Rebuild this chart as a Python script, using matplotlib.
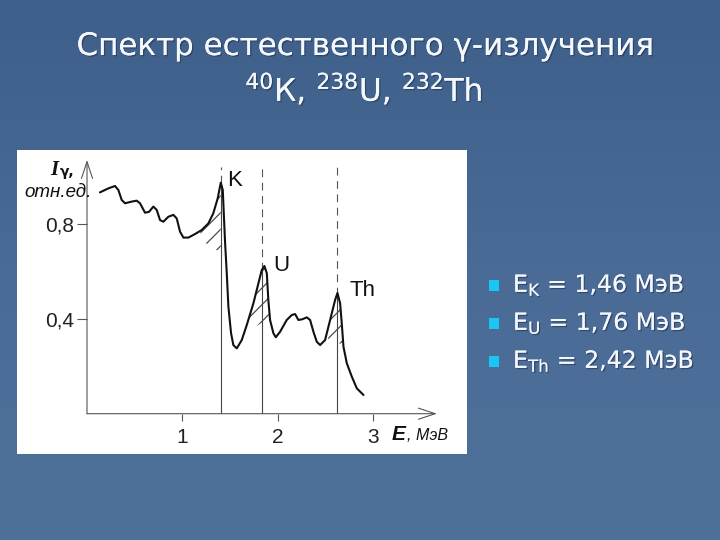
import numpy as np
import matplotlib
matplotlib.use('Agg')
import matplotlib.pyplot as plt
from matplotlib.patches import Rectangle
from matplotlib.colors import LinearSegmentedColormap
import matplotlib.patheffects as pe

# ---------------- data ----------------
energy = [0.136, 0.224, 0.294, 0.329, 0.364, 0.399, 0.469, 0.521, 0.556, 0.609,
          0.651, 0.696, 0.731, 0.766, 0.801, 0.853, 0.906, 0.941, 0.976, 1.011,
          1.063, 1.133, 1.203, 1.273, 1.325, 1.371, 1.403, 1.424, 1.448, 1.466,
          1.483, 1.511, 1.535, 1.571, 1.623, 1.676, 1.745, 1.798, 1.833, 1.861,
          1.886, 1.902, 1.920, 1.955, 1.980, 2.025, 2.095, 2.148, 2.183, 2.217,
          2.259, 2.305, 2.340, 2.375, 2.410, 2.445, 2.497, 2.550, 2.602, 2.627,
          2.655, 2.672, 2.690, 2.725, 2.778, 2.830, 2.900]
intensity = [0.935, 0.952, 0.962, 0.945, 0.903, 0.889, 0.896, 0.900, 0.889, 0.849,
             0.853, 0.875, 0.861, 0.818, 0.811, 0.832, 0.840, 0.825, 0.769, 0.744,
             0.744, 0.759, 0.776, 0.804, 0.847, 0.910, 0.976, 0.945, 0.725, 0.593,
             0.452, 0.340, 0.290, 0.276, 0.311, 0.375, 0.466, 0.551, 0.607, 0.624,
             0.593, 0.480, 0.396, 0.340, 0.323, 0.346, 0.396, 0.417, 0.421, 0.396,
             0.399, 0.407, 0.396, 0.346, 0.304, 0.290, 0.311, 0.396, 0.480, 0.510,
             0.466, 0.382, 0.283, 0.213, 0.156, 0.107, 0.079]

peak_names = ['K', 'U', 'Th']
peak_line_E = [1.403, 1.833, 2.620]
peak_label_E = [1.548, 2.036, 2.886]
peak_label_I = [0.987, 0.628, 0.520]

# hatched areas: energy range and lower boundary
band_E = [[1.19, 1.403], [1.68, 1.91], [2.53, 2.675]]
band_low = [[0.735, 0.680], [0.350, 0.400], [0.305, 0.295]]

xticks = [1, 2, 3]
xtick_labels = ['1', '2', '3']
yticks = [0.4, 0.8]
ytick_labels = ['0,4', '0,8']

title_line1 = 'Спектр естественного γ-излучения'
title_line2 = r'$^{\mathregular{40}}$К, $^{\mathregular{238}}$U, $^{\mathregular{232}}$Th'
bullet_texts = [r'E$_\mathregular{K}$ = 1,46 МэВ',
                r'E$_\mathregular{U}$ = 1,76 МэВ',
                r'E$_\mathregular{Th}$ = 2,42 МэВ']

# ---------------- figure ----------------
W, H = 720, 540
fig = plt.figure(figsize=(W / 100, H / 100), dpi=100)

def fx(x):
    return x / W

def fy(y):
    return 1 - y / H

# background
bg = fig.add_axes([0, 0, 1, 1], zorder=-10)
cmap = LinearSegmentedColormap.from_list('bg', ['#3f5f8b', '#4a6b96', '#4e7199'])
grad = np.linspace(0, 1, 256).reshape(-1, 1)
bg.imshow(grad, extent=[0, 1, 0, 1], aspect='auto', cmap=cmap, origin='upper')
bg.set_axis_off()

# white picture box
fig.add_artist(Rectangle((fx(17), fy(454)), fx(467) - fx(17), fy(150) - fy(454),
                         transform=fig.transFigure, facecolor='white',
                         edgecolor='none', zorder=-5))

# chart axes
x0, x1 = 87, 435
y0 = 413.7
ymax = 1.06
ax = fig.add_axes([fx(x0), fy(y0), fx(x1) - fx(x0), (ymax * 236.7) / H])
ax.set_xlim(0, 3.65)
ax.set_ylim(0, ymax)
ax.set_facecolor('none')
for s in ax.spines.values():
    s.set_visible(False)

E = np.array(energy)
I = np.array(intensity)

plt.rcParams['hatch.linewidth'] = 0.9
plt.rcParams['hatch.color'] = '#4a4a4a'
for be, bl in zip(band_E, band_low):
    inside = E[(E > be[0]) & (E < be[1])]
    xs = np.concatenate(([be[0]], inside, [be[1]]))
    top = np.interp(xs, E, I)
    low = np.interp(xs, be, bl)
    ax.fill_between(xs, low, top, where=top >= low, facecolor='none',
                    edgecolor='#4a4a4a', hatch='//', linewidth=0, zorder=2)

# vertical peak lines: dashed above the curve, solid below
for xe in peak_line_E:
    yc = np.interp(xe, E, I)
    ax.plot([xe, xe], [yc, 1.043], color='#555555', lw=0.8,
            linestyle=(0, (7, 5)), zorder=1)
    ax.plot([xe, xe], [0, yc], color='#444444', lw=0.8, zorder=1)

ax.plot(E, I, color='#111111', lw=1.5, solid_joinstyle='round',
        solid_capstyle='round', zorder=3)

for name, xe, ye in zip(peak_names, peak_label_E, peak_label_I):
    ax.text(xe, ye, name, ha='center', va='center', fontsize=16,
            family='Liberation Sans', color='#111111')

# axes arrows
arrow_kw = dict(arrowstyle='->,head_length=1.2,head_width=0.4', lw=0.8,
                color='#555555', shrinkA=0, shrinkB=0)
ax.annotate('', xy=(3.67, 0), xytext=(0, 0), arrowprops=arrow_kw,
            annotation_clip=False)
ax.annotate('', xy=(0, 1.072), xytext=(0, 0), arrowprops=arrow_kw,
            annotation_clip=False)

ax.set_xticks(xticks)
ax.set_xticklabels(xtick_labels)
ax.set_yticks(yticks)
ax.set_yticklabels(ytick_labels)
ax.tick_params(axis='x', direction='out', length=5, width=0.8, color='#555555',
               pad=5, labelsize=15, labelcolor='#222222')
ax.tick_params(axis='y', direction='out', length=7, width=0.8, color='#555555',
               pad=2, labelsize=15, labelcolor='#222222')
for lab in ax.get_xticklabels() + ax.get_yticklabels():
    lab.set_family('Liberation Sans')

# axis labels
fig.text(fx(50), fy(175), 'I', fontsize=15, fontweight='bold', fontstyle='italic',
         family='Liberation Serif', color='#111111', ha='left', va='baseline')
fig.text(fx(60), fy(176), 'γ,', fontsize=10, fontweight='bold',
         family='DejaVu Sans', color='#111111', ha='left', va='baseline')
fig.text(fx(24), fy(197), 'отн.ед.', fontsize=13.5, fontstyle='italic',
         family='Liberation Sans', color='#111111', ha='left', va='baseline')
fig.text(fx(392), fy(440), 'E', fontsize=15, fontweight='bold', fontstyle='italic',
         family='Liberation Sans', color='#111111', ha='left', va='baseline')
fig.text(fx(407), fy(440), ', МэВ', fontsize=11.5, fontstyle='italic',
         family='Liberation Sans', color='#111111', ha='left', va='baseline')

# titles
shadow = [pe.withSimplePatchShadow(offset=(1, -1), shadow_rgbFace='#1c2c44', alpha=0.5),
          pe.Normal()]
t1 = fig.text(fx(366), fy(55), title_line1, fontsize=23, color='#f4f7fb',
              family='DejaVu Sans', ha='center', va='baseline')
t2 = fig.text(fx(364), fy(101), title_line2, fontsize=23, color='#f4f7fb',
              family='DejaVu Sans', ha='center', va='baseline')
fig.canvas.draw()
r = fig.canvas.get_renderer()
w1 = t1.get_window_extent(r).width
t1.set_fontsize(23 * 578 / w1)
w2 = t2.get_window_extent(r).width
t2.set_fontsize(23 * 238 / w2)
for t in (t1, t2):
    t.set_path_effects(shadow)

# bullets
bullet_y = [292, 330, 368]
for yb, txt in zip(bullet_y, bullet_texts):
    fig.add_artist(Rectangle((fx(488.5), fy(yb - 1)), 11 / W, 11 / H,
                             transform=fig.transFigure, facecolor='#19c6f5',
                             edgecolor='none'))
    tb = fig.text(fx(513), fy(yb), txt, fontsize=17, color='#f4f7fb',
                  family='DejaVu Sans', ha='left', va='baseline')
    tb.set_path_effects(shadow)

fig.savefig('out.png', dpi=100)
